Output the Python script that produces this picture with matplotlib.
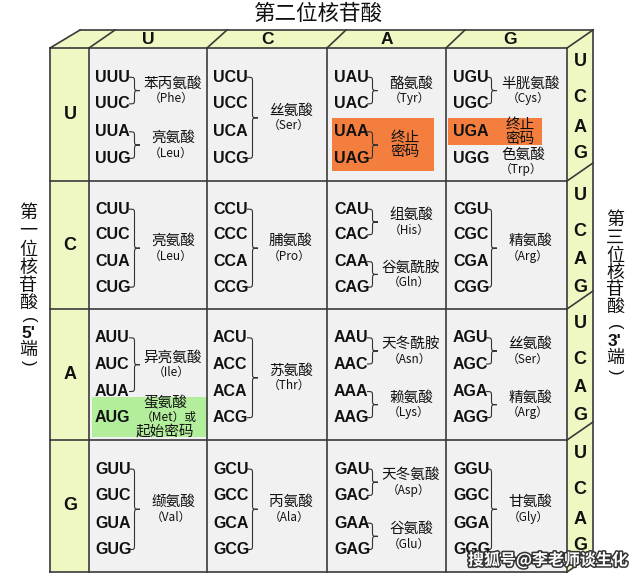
import matplotlib
matplotlib.use("Agg")
import matplotlib.pyplot as plt
from matplotlib.patches import Polygon, Rectangle, PathPatch
from matplotlib.path import Path
import matplotlib.patheffects as pe

# ---------------- data ----------------
bases = ['U', 'C', 'A', 'G']
title_top = '第二位核苷酸'
left_label = ['第', '一', '位', '核', '苷', '酸', '(', "5'", '端', ')']
right_label = ['第', '三', '位', '核', '苷', '酸', '(', "3'", '端', ')']
watermark = '搜狐号@李老师谈生化'

# amino-acid groups: (first base, second base, third-base indices, name, abbreviation)
aa_groups = [
    ('U', 'U', [0, 1], '苯丙氨酸', 'Phe'), ('U', 'U', [2, 3], '亮氨酸', 'Leu'),
    ('U', 'C', [0, 1, 2, 3], '丝氨酸', 'Ser'),
    ('U', 'A', [0, 1], '酪氨酸', 'Tyr'),
    ('U', 'G', [0, 1], '半胱氨酸', 'Cys'),
    ('C', 'U', [0, 1, 2, 3], '亮氨酸', 'Leu'),
    ('C', 'C', [0, 1, 2, 3], '脯氨酸', 'Pro'),
    ('C', 'A', [0, 1], '组氨酸', 'His'), ('C', 'A', [2, 3], '谷氨酰胺', 'Gln'),
    ('C', 'G', [0, 1, 2, 3], '精氨酸', 'Arg'),
    ('A', 'U', [0, 1, 2], '异亮氨酸', 'Ile'),
    ('A', 'C', [0, 1, 2, 3], '苏氨酸', 'Thr'),
    ('A', 'A', [0, 1], '天冬酰胺', 'Asn'), ('A', 'A', [2, 3], '赖氨酸', 'Lys'),
    ('A', 'G', [0, 1], '丝氨酸', 'Ser'), ('A', 'G', [2, 3], '精氨酸', 'Arg'),
    ('G', 'U', [0, 1, 2, 3], '缬氨酸', 'Val'),
    ('G', 'C', [0, 1, 2, 3], '丙氨酸', 'Ala'),
    ('G', 'A', [0, 1], '天冬氨酸', 'Asp'), ('G', 'A', [2, 3], '谷氨酸', 'Glu'),
    ('G', 'G', [0, 1, 2, 3], '甘氨酸', 'Gly'),
]
# single-codon entries without brace
single_aa = [('U', 'G', 3, '色氨酸', 'Trp')]
stop_groups = [('U', 'A', [2, 3]), ('U', 'G', [2])]
stop_text = ['终止', '密码']
start_codon = ('A', 'U', 3, '蛋氨酸', 'Met', '或', '起始密码')

# ---------------- layout / style ----------------
CJK = ['Noto Sans CJK SC', 'DejaVu Sans']
LAT = ['Liberation Sans', 'DejaVu Sans']
GREEN = '#EFF7C2'
CELL = '#F1F1F1'
ORANGE = '#F47E3E'
LIGHTGREEN = '#B3EE9C'
LINE = '#3A3A3A'
TXT = '#111111'

col_edges = [89, 207, 327, 446, 567]
row_edges = [48, 181, 309, 440, 572]
x_out_left, x_out_right, y_top = 50, 593, 30
top_slant = [30, 26, 20, 19, 19, 26]
codon_off = [0.22, 0.42, 0.63, 0.83]
strip_off = [14, 50, 79, 106]

fig = plt.figure(figsize=(6.4, 5.76), dpi=100)
ax = fig.add_axes([0, 0, 1, 1])
ax.set_xlim(0, 640)
ax.set_ylim(576, 0)
ax.axis('off')

# backgrounds
ax.add_patch(Polygon([(x_out_left, row_edges[0]), (x_out_left + top_slant[0], y_top),
                      (x_out_right, y_top), (col_edges[-1], row_edges[0])],
                     closed=True, fc=GREEN, ec='none'))
ax.add_patch(Rectangle((x_out_left, row_edges[0]), col_edges[0] - x_out_left,
                       row_edges[-1] - row_edges[0], fc=GREEN, ec='none'))
dy_strip = 18
ax.add_patch(Polygon([(col_edges[-1], row_edges[0]), (x_out_right, y_top),
                      (x_out_right, row_edges[-1] - dy_strip), (col_edges[-1], row_edges[-1])],
                     closed=True, fc=GREEN, ec='none'))
ax.add_patch(Rectangle((col_edges[0], row_edges[0]), col_edges[-1] - col_edges[0],
                       row_edges[-1] - row_edges[0], fc=CELL, ec='none'))

lw = 1.2
for x in col_edges:
    ax.plot([x, x], [row_edges[0], row_edges[-1]], color=LINE, lw=lw)
for y in row_edges:
    ax.plot([x_out_left, col_edges[-1]], [y, y], color=LINE, lw=lw)
ax.plot([x_out_left, x_out_left], [row_edges[0], row_edges[-1]], color=LINE, lw=lw)
ax.plot([x_out_left + top_slant[0], x_out_right], [y_top, y_top], color=LINE, lw=lw)
for x, d in zip([x_out_left] + col_edges, top_slant):
    ax.plot([x, x + d], [row_edges[0], y_top], color=LINE, lw=lw)
ax.plot([x_out_right, x_out_right], [y_top, row_edges[-1] - dy_strip], color=LINE, lw=lw)
for y in row_edges[1:]:
    ax.plot([col_edges[-1], x_out_right], [y, y - dy_strip], color=LINE, lw=lw)


def codon_y(i, k):
    h = row_edges[i + 1] - row_edges[i]
    return row_edges[i] + codon_off[k] * h


def brace(x, y0, y1, ym, w=11, r=5, color='#333333'):
    xm = x + w / 2
    verts = [(x, y0), (xm, y0), (xm, y0), (xm, y0 + r),
             (xm, ym - r),
             (xm, ym), (xm, ym), (x + w, ym),
             (xm, ym), (xm, ym), (xm, ym + r),
             (xm, y1 - r),
             (xm, y1), (xm, y1), (x, y1)]
    codes = [Path.MOVETO] + [Path.CURVE4] * 3 + [Path.LINETO] + [Path.CURVE4] * 6 + \
            [Path.LINETO] + [Path.CURVE4] * 3
    ax.add_patch(PathPatch(Path(verts, codes), fc='none', ec=color, lw=0.8))


# highlight boxes
for f, s, ks in stop_groups:
    i, j = bases.index(f), bases.index(s)
    xl = col_edges[j]
    y0 = codon_y(i, ks[0]) - 14
    y1 = codon_y(i, ks[-1]) + 13
    if len(ks) > 1:
        ax.add_patch(Rectangle((xl + 5, y0), 102, y1 - y0, fc=ORANGE, ec='none'))
    else:
        ax.add_patch(Rectangle((xl + 2, y0), 94, y1 - y0, fc=ORANGE, ec='none'))
fi, si = bases.index(start_codon[0]), bases.index(start_codon[1])
yc = codon_y(fi, start_codon[2])
ax.add_patch(Rectangle((col_edges[si] + 3, yc - 21), col_edges[si + 1] - col_edges[si] - 3, 40,
                       fc=LIGHTGREEN, ec='none'))

# title & side labels
ax.text(318, 14, title_top, family=CJK, fontsize=15.5, ha='center', va='center', color=TXT)
left_y = [213, 231, 250, 268, 286, 303, 320, 334, 350, 363]
right_y = [220, 238, 256, 273, 290, 307, 327, 342, 358, 372]


def side_label(x, chars, ys):
    for ch, y in zip(chars, ys):
        if ch in '()':
            ax.text(x, y, ch, family=LAT, fontsize=12, ha='center', va='center', color=TXT,
                    rotation=-90, fontweight='light')
        elif ch.endswith("'"):
            ax.text(x, y, ch, family=LAT, fontsize=12.5, ha='center', va='center', color=TXT,
                    fontweight='bold')
        else:
            ax.text(x, y, ch, family=CJK, fontsize=13, ha='center', va='center', color=TXT)


side_label(28, left_label, left_y)
side_label(615, right_label, right_y)

# header / side base letters
for j, b in enumerate(bases):
    cx = (col_edges[j] + col_edges[j + 1]) / 2 + (4 if j == 3 else 0)
    ax.text(cx, 39, b, family=LAT, fontsize=12.5, ha='center', va='center', color=TXT,
            fontweight='bold')
for i, b in enumerate(bases):
    cy = (row_edges[i] + row_edges[i + 1]) / 2
    ax.text(70, cy, b, family=LAT, fontsize=13, ha='center', va='center', color=TXT,
            fontweight='bold')
    for k, b3 in enumerate(bases):
        ax.text(580, row_edges[i] + strip_off[k], b3, family=LAT, fontsize=13,
                ha='center', va='center', color=TXT, fontweight='bold')

# codons
for i, b1 in enumerate(bases):
    for j, b2 in enumerate(bases):
        for k, b3 in enumerate(bases):
            xo = 6 if j < 2 else 7
            ax.text(col_edges[j] + xo, codon_y(i, k), b1 + b2 + b3, family=LAT, fontsize=11.5,
                    ha='left', va='center', color=TXT, fontweight='bold')

# amino-acid groups with braces
for f, s, ks, name, ab in aa_groups:
    i, j = bases.index(f), bases.index(s)
    xl = col_edges[j]
    y0, y1 = codon_y(i, ks[0]), codon_y(i, ks[-1])
    ym = (y0 + y1) / 2
    brace(xl + 40, y0, y1, ym)
    ax.text(xl + 84, ym - 7, name, family=CJK, fontsize=10.5, ha='center', va='center', color=TXT)
    ax.text(xl + 82, ym + 8, '（' + ab + '）', family=CJK, fontsize=8.5, ha='center', va='center',
            color=TXT)

for f, s, k, name, ab in single_aa:
    i, j = bases.index(f), bases.index(s)
    xl = col_edges[j]
    yk = codon_y(i, k)
    ax.text(xl + 77, yk - 3, name, family=CJK, fontsize=10.5, ha='center', va='center', color=TXT)
    ax.text(xl + 75, yk + 11, '（' + ab + '）', family=CJK, fontsize=8.5, ha='center', va='center',
            color=TXT)

for f, s, ks in stop_groups:
    i, j = bases.index(f), bases.index(s)
    xl = col_edges[j]
    y0, y1 = codon_y(i, ks[0]), codon_y(i, ks[-1])
    ym = (y0 + y1) / 2
    if len(ks) > 1:
        brace(xl + 40, y0, y1, ym)
        cx = xl + 78
    else:
        cx = xl + 74
    ax.text(cx, ym - 7, stop_text[0], family=CJK, fontsize=10.5, ha='center', va='center', color=TXT)
    ax.text(cx, ym + 7, stop_text[1], family=CJK, fontsize=10.5, ha='center', va='center', color=TXT)

xl = col_edges[si]
ax.text(xl + 76, yc - 15, start_codon[3], family=CJK, fontsize=10.5, ha='center', va='center', color=TXT)
ax.text(xl + 80, yc, '（' + start_codon[4] + '）' + start_codon[5], family=CJK, fontsize=8.5,
        ha='center', va='center', color=TXT)
ax.text(xl + 76, yc + 14, start_codon[6], family=CJK, fontsize=10.5, ha='center', va='center', color=TXT)

# watermark
ax.text(548, 560, watermark, family=CJK, fontsize=11.5, ha='center', va='center', color='white',
        fontweight='bold', path_effects=[pe.withStroke(linewidth=2.2, foreground='#333333')])

fig.savefig('out.png', dpi=100)
